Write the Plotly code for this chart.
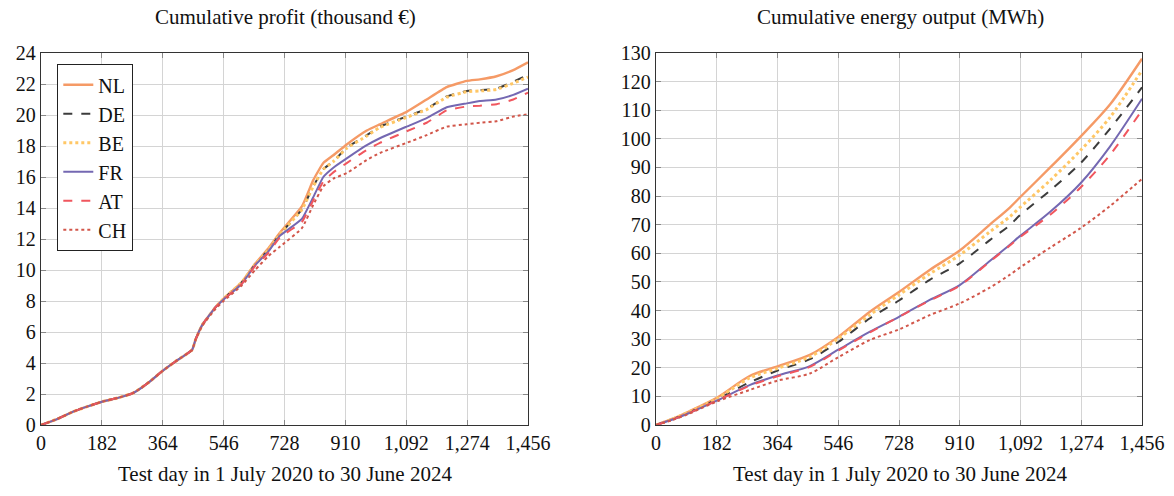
import plotly.graph_objects as go

# ---------------- data ----------------
tick_days = [0, 182, 364, 546, 728, 910, 1092, 1274, 1456]
tick_day_labels = ["0", "182", "364", "546", "728", "910", "1,092", "1,274", "1,456"]
profit_ticks = list(range(0, 25, 2))
energy_ticks = list(range(0, 131, 10))

countries = ["NL", "DE", "BE", "FR", "AT", "CH"]

# Cumulative profit (thousand EUR)
profit_days = [0, 50, 96, 140, 182, 230, 275, 300, 325, 364, 402, 430, 452, 462, 482, 522, 546,
               600, 640, 680, 714, 780, 814, 844, 874, 914, 974, 1013, 1093, 1153, 1213, 1273,
               1312, 1362, 1412, 1456]
profit_NL = [0, 0.4, 0.86, 1.2, 1.5, 1.75, 2.06, 2.4, 2.8, 3.5, 4.1, 4.5, 4.85, 5.5, 6.45, 7.6, 8.15,
             9.2, 10.4, 11.4, 12.4, 14.1, 15.8, 16.9, 17.4, 18.1, 19.0, 19.4, 20.2, 21.0, 21.8, 22.2,
             22.3, 22.5, 22.9, 23.4]
profit_DE = [0, 0.4, 0.86, 1.2, 1.5, 1.75, 2.06, 2.4, 2.8, 3.5, 4.1, 4.5, 4.85, 5.5, 6.45, 7.6, 8.15,
             9.2, 10.35, 11.3, 12.3, 13.9, 15.4, 16.5, 17.0, 17.9, 18.7, 19.25, 19.9, 20.4, 21.2, 21.55,
             21.6, 21.7, 22.15, 22.6]
profit_BE = [0, 0.4, 0.86, 1.2, 1.5, 1.75, 2.06, 2.4, 2.8, 3.5, 4.1, 4.5, 4.85, 5.5, 6.45, 7.6, 8.15,
             9.2, 10.35, 11.3, 12.3, 13.9, 15.4, 16.5, 17.0, 17.85, 18.65, 19.2, 19.85, 20.35, 21.15, 21.5,
             21.55, 21.65, 22.05, 22.45]
profit_FR = [0, 0.4, 0.86, 1.2, 1.5, 1.75, 2.06, 2.4, 2.8, 3.5, 4.1, 4.5, 4.85, 5.5, 6.45, 7.6, 8.1,
             9.1, 10.3, 11.2, 12.2, 13.3, 14.7, 16.0, 16.6, 17.2, 18.05, 18.5, 19.25, 19.8, 20.5, 20.75,
             20.9, 21.0, 21.3, 21.7]
profit_AT = [0, 0.4, 0.86, 1.2, 1.5, 1.75, 2.06, 2.4, 2.8, 3.5, 4.1, 4.5, 4.85, 5.5, 6.45, 7.6, 8.1,
             9.1, 10.25, 11.1, 12.1, 13.1, 14.5, 15.7, 16.3, 16.9, 17.75, 18.2, 18.95, 19.5, 20.3, 20.55,
             20.6, 20.7, 21.0, 21.45]
profit_CH = [0, 0.4, 0.86, 1.2, 1.5, 1.75, 2.06, 2.4, 2.8, 3.5, 4.1, 4.5, 4.85, 5.5, 6.4, 7.5, 8.0,
             9.0, 10.0, 10.9, 11.5, 12.7, 14.2, 15.4, 15.9, 16.25, 17.1, 17.55, 18.2, 18.7, 19.25, 19.4,
             19.5, 19.6, 19.9, 20.05]

# Cumulative energy output (MWh)
energy_days = [0, 50, 100, 182, 282, 364, 461, 546, 641, 728, 820, 910, 1000, 1060, 1090, 1181,
               1272, 1360, 1456]
energy_NL = [0, 2.2, 4.8, 9.5, 17.2, 20.5, 24.5, 30.8, 39.6, 46.5, 54.2, 61.0, 70.0, 76.0, 79.5, 90.0,
             100.8, 112.0, 128.0]
energy_DE = [0, 2.0, 4.4, 8.9, 15.0, 19.0, 23.0, 29.0, 37.3, 43.5, 50.7, 56.5, 64.6, 69.8, 73.3, 82.0,
             91.5, 103.5, 118.0]
energy_BE = [0, 2.1, 4.6, 9.2, 16.5, 19.8, 23.8, 30.2, 38.5, 45.5, 52.8, 59.4, 67.5, 72.8, 76.0, 85.5,
             96.0, 107.5, 124.0]
energy_FR = [0, 1.9, 4.2, 8.5, 14.0, 17.3, 20.6, 26.3, 32.6, 37.8, 43.7, 48.9, 57.3, 63.0, 66.0, 74.5,
             84.5, 97.3, 114.0]
energy_AT = [0, 1.9, 4.2, 8.5, 13.8, 17.0, 20.3, 26.0, 32.4, 37.8, 43.5, 48.7, 57.1, 62.7, 65.6, 73.5,
             83.0, 94.4, 110.0]
energy_CH = [0, 1.8, 4.0, 8.2, 12.3, 15.5, 18.0, 23.7, 29.7, 33.4, 38.4, 42.5, 48.0, 52.5, 55.0, 62.0,
             68.8, 76.5, 86.0]

profit = {"NL": profit_NL, "DE": profit_DE, "BE": profit_BE, "FR": profit_FR, "AT": profit_AT, "CH": profit_CH}
energy = {"NL": energy_NL, "DE": energy_DE, "BE": energy_BE, "FR": energy_FR, "AT": energy_AT, "CH": energy_CH}

styles = {
    "NL": dict(color="#F59A66", dash="solid", width=2.4),
    "DE": dict(color="#3C3C3C", dash="dash", width=2),
    "BE": dict(color="#FFC766", dash="dot", width=3),
    "FR": dict(color="#7468B2", dash="solid", width=2),
    "AT": dict(color="#F0565E", dash="dash", width=2),
    "CH": dict(color="#D2564A", dash="dot", width=2),
}

FONT = "Liberation Serif"

fig = go.Figure()
for c in countries:
    fig.add_trace(go.Scatter(x=profit_days, y=profit[c], mode="lines", name=c,
                             line=dict(shape="spline", smoothing=0.4, **styles[c]),
                             xaxis="x", yaxis="y", showlegend=True))
for c in countries:
    fig.add_trace(go.Scatter(x=energy_days, y=energy[c], mode="lines", name=c,
                             line=dict(shape="spline", smoothing=0.8, **styles[c]),
                             xaxis="x2", yaxis="y2", showlegend=False))

W, H = 1174, 496
ydom = [(H - 425) / H, (H - 53) / H]

axis_common = dict(showline=True, mirror="ticks", linecolor="#333333", linewidth=1.3,
                   ticks="inside", ticklen=5, tickcolor="#888888", tickwidth=1,
                   showgrid=True, gridcolor="#D4D4D4", gridwidth=1, zeroline=False,
                   tickfont=dict(family=FONT, size=20, color="#111111"), automargin=False)

fig.update_layout(
    width=W, height=H,
    margin=dict(l=0, r=0, t=0, b=0),
    paper_bgcolor="white", plot_bgcolor="white",
    font=dict(family=FONT, size=20, color="#111111"),
    xaxis=dict(domain=[41 / W, 528 / W], range=[0, 1456], tickvals=tick_days, ticktext=tick_day_labels,
               anchor="y", **axis_common),
    yaxis=dict(domain=ydom, range=[0, 24], tickvals=profit_ticks, anchor="x", **axis_common),
    xaxis2=dict(domain=[656 / W, 1142 / W], range=[0, 1456], tickvals=tick_days, ticktext=tick_day_labels,
                anchor="y2", **axis_common),
    yaxis2=dict(domain=ydom, range=[0, 130], tickvals=energy_ticks, anchor="x2", **axis_common),
    legend=dict(x=57 / W, y=(H - 64) / H, xanchor="left", yanchor="top",
                bgcolor="white", bordercolor="#222222", borderwidth=1.3,
                font=dict(family=FONT, size=20, color="#111111"), tracegroupgap=0),
    showlegend=True,
)

annots = [
    dict(text="Cumulative profit (thousand €)", x=285 / W, y=(H - 17) / H),
    dict(text="Cumulative energy output (MWh)", x=900 / W, y=(H - 17) / H),
    dict(text="Test day in 1 July 2020 to 30 June 2024", x=285 / W, y=(H - 474) / H),
    dict(text="Test day in 1 July 2020 to 30 June 2024", x=900 / W, y=(H - 474) / H),
]
for a in annots:
    fig.add_annotation(xref="paper", yref="paper", showarrow=False, xanchor="center", yanchor="middle",
                       font=dict(family=FONT, size=21, color="#111111"), **a)

fig.write_html("out.html")
